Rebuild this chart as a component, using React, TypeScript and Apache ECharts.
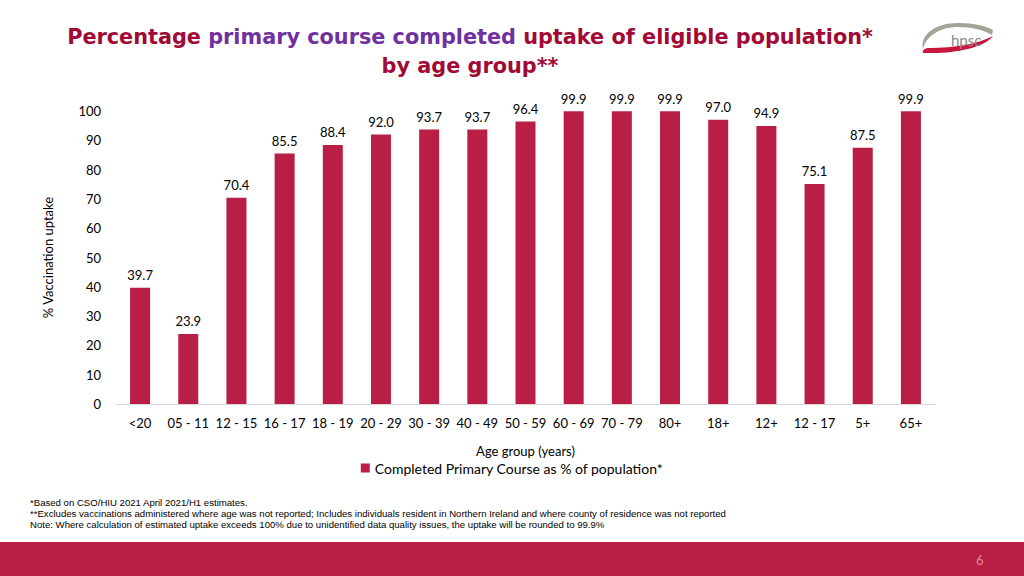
import React, { useEffect, useRef } from "react";
import * as echarts from "echarts";

const categories = ["<20", "05 - 11", "12 - 15", "16 - 17", "18 - 19", "20 - 29", "30 - 39", "40 - 49", "50 - 59", "60 - 69", "70 - 79", "80+", "18+", "12+", "12 - 17", "5+", "65+"];
const uptake = [39.7, 23.9, 70.4, 85.5, 88.4, 92.0, 93.7, 93.7, 96.4, 99.9, 99.9, 99.9, 97.0, 94.9, 75.1, 87.5, 99.9];
const seriesName = "Completed Primary Course as % of population*";
const footnotes = [
  "*Based on CSO/HIU 2021 April 2021/H1 estimates.",
  "**Excludes vaccinations administered where age was not reported; Includes individuals resident in Northern Ireland and where county of residence was not reported",
  "Note: Where calculation of estimated uptake exceeds 100% due to unidentified data quality issues, the uptake will be rounded to 99.9%",
];

const RED = "#B91F45";
const TITLE_RED = "#A00A35";
const PURPLE = "#7030A0";

echarts.graphic.registerShape(
  "hpscGray",
  echarts.graphic.extendPath("M5,29 C2,14 18,3 40,3 C56,3 68,6 75,10 L74,15 C66,10 54,7 40,7 C22,7 8,16 5,29 Z", {})
);
echarts.graphic.registerShape(
  "hpscRed",
  echarts.graphic.extendPath("M75,16 C68,26 44,32 20,33 L5,33 C4,30 7,28 12,28 C36,28 60,24 75,16 Z", {})
);

export default function App() {
  const ref = useRef<HTMLDivElement>(null);
  useEffect(() => {
    if (!ref.current) return;
    const chart = echarts.init(ref.current, undefined, { renderer: "svg" });
    chart.setOption({
      animation: false,
      backgroundColor: "#ffffff",
      textStyle: { fontFamily: "Lato" },
      title: {
        text: "{r|Percentage }{p|primary course completed}{r| uptake of eligible population*}\n{r|by age group**}",
        left: 470,
        top: 22,
        padding: 0,
        textAlign: "center",
        textStyle: {
          rich: {
            r: { fontFamily: "DejaVu Sans", fontWeight: "bold", fontSize: 20.8, color: TITLE_RED, lineHeight: 29 },
            p: { fontFamily: "DejaVu Sans", fontWeight: "bold", fontSize: 20.8, color: PURPLE, lineHeight: 29 },
          },
        },
      },
      grid: { left: 116, right: 89, top: 111, bottom: 172, containLabel: false },
      legend: {
        top: 456,
        left: "center",
        itemWidth: 9,
        itemHeight: 9,
        icon: "rect",
        itemGap: 10,
        textStyle: { fontFamily: "Lato", fontSize: 14, color: "#000" },
        data: [seriesName],
      },
      xAxis: {
        type: "category",
        data: categories,
        name: "Age group (years)",
        nameLocation: "middle",
        nameGap: 40,
        nameTextStyle: { fontFamily: "Lato", fontSize: 13, color: "#000", verticalAlign: "top" },
        axisLine: { lineStyle: { color: "#d9d9d9", width: 1 } },
        axisTick: { show: false },
        axisLabel: { interval: 0, margin: 12, fontFamily: "Lato", fontSize: 13, color: "#000" },
      },
      yAxis: {
        type: "value",
        min: 0,
        max: 100,
        interval: 10,
        name: "% Vaccination uptake",
        nameLocation: "middle",
        nameGap: 62,
        nameTextStyle: { fontFamily: "Lato", fontSize: 13, color: "#000" },
        axisLine: { show: false },
        axisTick: { show: false },
        splitLine: { show: false },
        axisLabel: { margin: 15, fontFamily: "Lato", fontSize: 13, color: "#000" },
      },
      series: [
        {
          name: seriesName,
          type: "bar",
          data: uptake,
          barWidth: 20,
          itemStyle: { color: RED },
          label: {
            show: true,
            position: "top",
            distance: 6,
            fontFamily: "Lato",
            fontSize: 13,
            color: "#000",
            formatter: (p: any) => Number(p.value).toFixed(1),
          },
        },
      ],
      graphic: [
        ...footnotes.map((t, i) => ({
          type: "text",
          left: 30,
          top: 497 + i * 11,
          style: { text: t, fontFamily: "Liberation Sans", fontSize: 9.6, fill: "#000" },
        })),
        {
          type: "rect",
          left: 0,
          top: 542,
          shape: { width: 1024, height: 34 },
          style: { fill: RED },
        },
        {
          type: "text",
          left: 976,
          top: 553,
          style: { text: "6", fontFamily: "Lato", fontSize: 13, fill: "#d98aa0" },
        },
        {
          type: "group",
          x: 918,
          y: 20,
          children: [
            { type: "hpscGray", x: 0, y: 0, style: { fill: "#a3a396" } },
            { type: "hpscRed", x: 0, y: 0, style: { fill: "#c8163f" } },
            {
              type: "text",
              x: 33,
              y: 12,
              style: { text: "hpsc", fontFamily: "Lato", fontSize: 15, fill: "#8a8a8a" },
            },
          ],
        },
      ],
    });
    return () => chart.dispose();
  }, []);
  return <div ref={ref} style={{ position: "fixed", left: 0, top: 0, width: 1024, height: 576 }} />;
}
